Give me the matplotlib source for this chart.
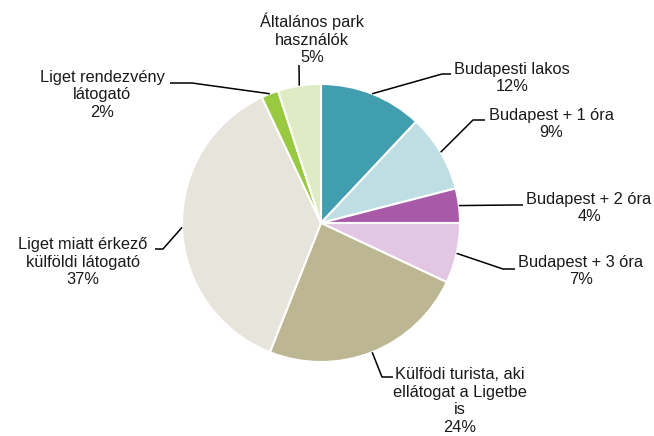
import matplotlib
matplotlib.use("Agg")
import numpy as np
import matplotlib.pyplot as plt

plt.rcParams['font.family'] = ['Liberation Sans', 'DejaVu Sans']

# visitor groups, clockwise from 12 o'clock
categories = [
    "Budapesti lakos",
    "Budapest + 1 óra",
    "Budapest + 2 óra",
    "Budapest + 3 óra",
    "Külfödi turista, aki\nellátogat a Ligetbe\nis",
    "Liget miatt érkező\nkülföldi látogató",
    "Liget rendezvény\nlátogató",
    "Általános park\nhasználók",
]
shares = [12, 9, 4, 7, 24, 37, 2, 5]
colors = ["#409eaf", "#bedee3", "#a85aa8", "#e3c6e3",
          "#bcb693", "#e7e5db", "#98c940", "#dfebc5"]

W, H = 654, 436
cx, cy, r = 321, H - 223, 139

# label text centre and elbow of the leader line (pixels from top-left)
label_pos = [(512, 78), (551, 124), (589, 208), (581, 271),
             (460, 401), (83, 262), (102, 95), (312, 39)]
elbows = [[(442, 74), (451, 74)],
          [(473, 120), (485, 120)],
          [(512, 205), (523, 205)],
          [(503, 269), (515, 269)],
          [(382, 377), (393, 377)],
          [(163, 249), (155, 249)],
          [(192, 83), (170, 83)],
          [(299, 65)]]

fig = plt.figure(figsize=(W / 100, H / 100), dpi=100)
ax = fig.add_axes([0, 0, 1, 1])

wedges, _ = ax.pie(shares, colors=colors, startangle=90, counterclock=False,
                   center=(cx, cy), radius=r,
                   wedgeprops=dict(edgecolor="white", linewidth=1.5))
ax.set_xlim(0, W)
ax.set_ylim(0, H)
ax.set_aspect("equal")
ax.axis("off")

for w, name, val, (tx, ty), elb in zip(wedges, categories, shares, label_pos, elbows):
    mid = np.deg2rad((w.theta1 + w.theta2) / 2)
    px = cx + r * np.cos(mid)
    py = cy + r * np.sin(mid)
    xs = [px] + [e[0] for e in elb]
    ys = [py] + [H - e[1] for e in elb]
    ax.plot(xs, ys, color="black", lw=1.1, solid_capstyle="butt")
    ax.text(tx, H - ty, f"{name}\n{val}%", ha="center", va="center",
            fontsize=11.8, linespacing=1.2, color="#1a1a1a")

fig.savefig("out.png", dpi=100)
